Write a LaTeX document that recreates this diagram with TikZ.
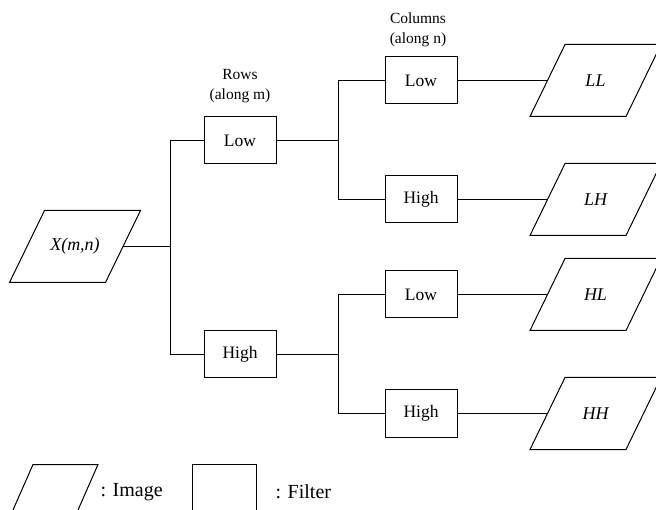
\documentclass[tikz,border=0pt]{standalone}
\usepackage{fontspec}
\setmainfont{Liberation Serif}
\begin{document}
\begin{tikzpicture}[x=1pt,y=-1pt,
  line width=1pt,
  filterbox/.style={draw, minimum width=72pt, minimum height=47pt, inner sep=0pt,
    font=\fontsize{17.5}{20}\selectfont},
  imagenode/.style={minimum width=95pt, minimum height=71pt, inner sep=0pt,
    font=\fontsize{18}{21}\selectfont\itshape},
  header/.style={align=center, font=\fontsize{15.5}{19.5}\selectfont},
  legendtext/.style={anchor=west, inner sep=0pt, font=\fontsize{20}{24}\selectfont}]
\useasboundingbox (0,0) rectangle (656,510);
\clip (0,0) rectangle (656,510);

% input image and the four sub-bands (outlines drawn below)
\node[imagenode] (X)  at (75,246.5)    {X(m,n)};
\node[imagenode] (LL) at (595.5,80.5)  {LL};
\node[imagenode] (LH) at (595.5,199.5) {LH};
\node[imagenode] (HL) at (595.5,294.5) {HL};
\node[imagenode] (HH) at (595.5,413.5) {HH};
\foreach \n in {X,LL,LH,HL,HH}
  \draw ([xshift=17.5pt]\n.north west) -- ([xshift=17.5pt]\n.north east)
     -- ([xshift=-17.5pt]\n.south east) -- ([xshift=-17.5pt]\n.south west) -- cycle;

% row filters
\node[filterbox] (rL) at (240,140.5) {Low};
\node[filterbox] (rH) at (240,354.5) {High};
\node[header] (rowhdr) at (240,86) {Rows\\(along m)};

% column filters
\node[filterbox] (cLL) at (421,80.5)  {Low};
\node[filterbox] (cLH) at (421,199.5) {High};
\node[filterbox] (cHL) at (421,294.5) {Low};
\node[filterbox] (cHH) at (421,413.5) {High};
\node[header] (colhdr) at (418,30) {Columns\\(along n)};

% branch points
\coordinate (j1) at (170.5,246.5);
\coordinate (j2) at (338.5,140.5);
\coordinate (j3) at (338.5,354.5);

% connections
\draw (X.east) -- (j1);
\draw (rL.west) -| (j1) |- (rH.west);
\draw (rL.east) -- (j2);
\draw (cLL.west) -| (j2) |- (cLH.west);
\draw (rH.east) -- (j3);
\draw (cHL.west) -| (j3) |- (cHH.west);
\draw (cLL.east) -- (LL.west);
\draw (cLH.east) -- (LH.west);
\draw (cHL.east) -- (HL.west);
\draw (cHH.east) -- (HH.west);

% legend
\draw (13,510) -- (33,464.5) -- (98,464.5) -- (78,510);
\node[legendtext] (legI) at (100,492) {: Image};
\node[draw, minimum width=64pt, minimum height=50pt, inner sep=0pt] (legF) at (224,489.5) {};
\node[legendtext] (legFt) at (275,492) {: Filter};
\end{tikzpicture}
\end{document}
